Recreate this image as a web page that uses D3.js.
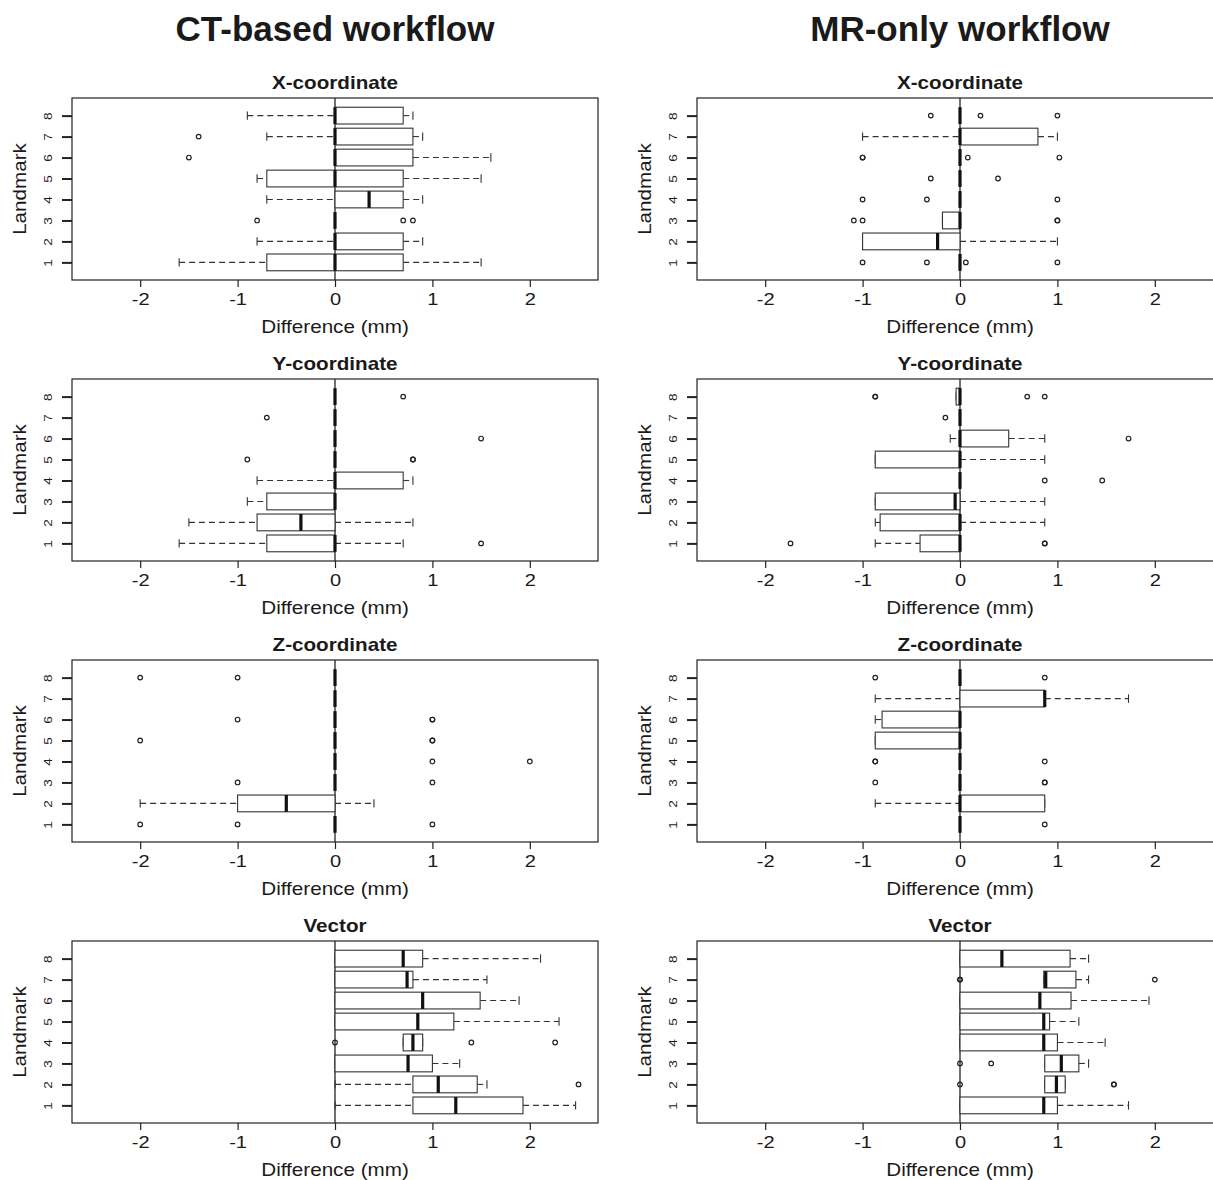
<!DOCTYPE html>
<html lang="en">
  <head>
    <meta charset="UTF-8" />
    <title>Landmark differences</title>
    <script src="https://cdn.jsdelivr.net/npm/d3@7"></script>
    <style>
      body { margin: 0; background: #fff; }
      svg { display: block; font-family: "Liberation Sans", Arial, sans-serif; }
    </style>
  </head>
  <body>
    <div id="wrapper"></div>
    <script>
      // landmarks 1..8, each row: [lower whisker, Q1, median, Q3, upper whisker]
      const landmarks = [1, 2, 3, 4, 5, 6, 7, 8]
      const xTicks = [-2, -1, 0, 1, 2]
      const columnTitles = ['CT-based workflow', 'MR-only workflow']
      const rowTitles = ['X-coordinate', 'Y-coordinate', 'Z-coordinate', 'Vector']

      const ctX = [
        [-1.6, -0.7, 0, 0.7, 1.5], [-0.8, 0, 0, 0.7, 0.9], [0, 0, 0, 0, 0], [-0.7, 0, 0.35, 0.7, 0.9],
        [-0.8, -0.7, 0, 0.7, 1.5], [0, 0, 0, 0.8, 1.6], [-0.7, 0, 0, 0.8, 0.9], [-0.9, 0, 0, 0.7, 0.8]
      ]
      const ctXOut = [[], [], [-0.8, 0.7, 0.8], [], [], [-1.5], [-1.4], []]

      const mrX = [
        [0, 0, 0, 0, 0], [-1.0, -1.0, -0.23, 0, 1.0], [-0.18, -0.18, 0, 0, 0], [0, 0, 0, 0, 0],
        [0, 0, 0, 0, 0], [0, 0, 0, 0, 0], [-1.0, 0, 0, 0.8, 1.0], [0, 0, 0, 0, 0]
      ]
      const mrXOut = [
        [-1.0, -0.34, 0.06, 1.0], [], [-1.09, -1.0, 1.0, 1.0], [-1.0, -0.34, 1.0],
        [-0.3, 0.39], [-1.0, -1.0, 0.08, 1.02], [], [-0.3, 0.21, 1.0]
      ]

      const ctY = [
        [-1.6, -0.7, 0, 0, 0.7], [-1.5, -0.8, -0.35, 0, 0.8], [-0.9, -0.7, 0, 0, 0], [-0.8, 0, 0, 0.7, 0.8],
        [0, 0, 0, 0, 0], [0, 0, 0, 0, 0], [0, 0, 0, 0, 0], [0, 0, 0, 0, 0]
      ]
      const ctYOut = [[1.5], [], [], [], [-0.9, 0.8, 0.8], [1.5], [-0.7], [0.7]]

      const mrY = [
        [-0.87, -0.41, 0, 0, 0], [-0.87, -0.82, 0, 0, 0.87], [-0.87, -0.87, -0.05, 0, 0.87], [0, 0, 0, 0, 0],
        [-0.87, -0.87, 0, 0, 0.87], [-0.1, 0, 0, 0.5, 0.87], [0, 0, 0, 0, 0], [-0.04, -0.04, 0, 0, 0]
      ]
      const mrYOut = [[-1.74, 0.87, 0.87], [], [], [0.87, 1.46], [], [1.73], [-0.15], [-0.87, -0.87, 0.69, 0.87]]

      const ctZ = [
        [0, 0, 0, 0, 0], [-2, -1, -0.5, 0, 0.4], [0, 0, 0, 0, 0], [0, 0, 0, 0, 0],
        [0, 0, 0, 0, 0], [0, 0, 0, 0, 0], [0, 0, 0, 0, 0], [0, 0, 0, 0, 0]
      ]
      const ctZOut = [[-2, -1, 1], [], [-1, 1], [1, 2], [-2, 1, 1], [-1, 1, 1], [], [-2, -1]]

      const mrZ = [
        [0, 0, 0, 0, 0], [-0.87, 0, 0, 0.87, 0.87], [0, 0, 0, 0, 0], [0, 0, 0, 0, 0],
        [-0.87, -0.87, 0, 0, 0], [-0.87, -0.8, 0, 0, 0], [-0.87, 0, 0.87, 0.87, 1.73], [0, 0, 0, 0, 0]
      ]
      const mrZOut = [[0.87], [], [-0.87, 0.87, 0.87], [-0.87, -0.87, 0.87], [], [], [], [-0.87, 0.87]]

      const ctVec = [
        [0, 0.8, 1.24, 1.93, 2.47], [0, 0.8, 1.06, 1.46, 1.56], [0, 0, 0.75, 1.0, 1.28], [0.7, 0.7, 0.8, 0.9, 0.9],
        [0, 0, 0.85, 1.22, 2.3], [0, 0, 0.9, 1.49, 1.89], [0, 0, 0.74, 0.8, 1.56], [0, 0, 0.7, 0.9, 2.11]
      ]
      const ctVecOut = [[], [2.5], [], [0, 1.4, 2.26], [], [], [], []]

      const mrVec = [
        [0, 0, 0.86, 1.0, 1.73], [0.87, 0.87, 0.99, 1.08, 1.08], [0.87, 0.87, 1.04, 1.22, 1.32], [0, 0, 0.86, 1.0, 1.49],
        [0, 0, 0.86, 0.92, 1.22], [0, 0, 0.82, 1.14, 1.94], [0.86, 0.86, 0.88, 1.19, 1.32], [0, 0, 0.43, 1.13, 1.32]
      ]
      const mrVecOut = [[], [0, 1.58, 1.58], [0, 0.32], [], [], [], [0, 0, 2.0], []]

      const panels = [
        { row: 0, col: 0, stats: ctX, out: ctXOut }, { row: 0, col: 1, stats: mrX, out: mrXOut },
        { row: 1, col: 0, stats: ctY, out: ctYOut }, { row: 1, col: 1, stats: mrY, out: mrYOut },
        { row: 2, col: 0, stats: ctZ, out: ctZOut }, { row: 2, col: 1, stats: mrZ, out: mrZOut },
        { row: 3, col: 0, stats: ctVec, out: ctVecOut }, { row: 3, col: 1, stats: mrVec, out: mrVecOut }
      ]

      const dms = {
        width: 1213,
        height: 1180,
        colLeft: [72, 697],
        rowTop: [98, 379, 660, 941],
        w: 526,
        h: 182
      }
      // the panel lettering is wider than plain Arial at the same height
      const stretch = 1.18

      const svg = d3.select('#wrapper').append('svg')
        .attr('width', dms.width)
        .attr('height', dms.height)

      const x = d3.scaleLinear().domain([-2.7, 2.7]).range([0, dms.w])
      const y = d3.scaleLinear().domain([0.16, 8.84]).range([dms.h, 0])
      const step = y(1) - y(2)
      const boxH = step * 0.8
      const staple = boxH * 0.25

      columnTitles.forEach((t, i) => {
        svg.append('text')
          .attr('x', dms.colLeft[i] + dms.w / 2)
          .attr('y', 41)
          .attr('text-anchor', 'middle')
          .attr('font-size', 35)
          .attr('font-weight', 'bold')
          .attr('fill', '#1a1a1a')
          .text(t)
      })

      panels.forEach(p => drawPanel(p))

      function drawPanel(p) {
        const g = svg.append('g')
          .attr('transform', `translate(${dms.colLeft[p.col]},${dms.rowTop[p.row]})`)

        g.append('text')
          .attr('transform', `translate(${dms.w / 2},-9) scale(${stretch},1)`)
          .attr('text-anchor', 'middle')
          .attr('font-size', 17.5)
          .attr('font-weight', 'bold')
          .attr('fill', '#1a1a1a')
          .text(rowTitles[p.row])

        // zero reference line
        g.append('line')
          .attr('x1', x(0)).attr('x2', x(0))
          .attr('y1', 0).attr('y2', dms.h)
          .attr('stroke', '#111')
          .attr('stroke-width', 1.2)

        landmarks.forEach((lm, i) => {
          const [lo, q1, med, q3, hi] = p.stats[i]
          const cy = y(lm)
          const b = g.append('g')

          b.selectAll('line.whisker')
            .data([[lo, q1], [q3, hi]])
            .join('line')
            .attr('class', 'whisker')
            .attr('x1', d => x(d[0])).attr('x2', d => x(d[1]))
            .attr('y1', cy).attr('y2', cy)
            .attr('stroke', '#333')
            .attr('stroke-width', 1.1)
            .attr('stroke-dasharray', '6,4')

          b.selectAll('line.staple')
            .data([lo, hi])
            .join('line')
            .attr('class', 'staple')
            .attr('x1', d => x(d)).attr('x2', d => x(d))
            .attr('y1', cy - staple).attr('y2', cy + staple)
            .attr('stroke', '#333')
            .attr('stroke-width', 1.1)

          b.append('rect')
            .attr('x', x(q1))
            .attr('y', cy - boxH / 2)
            .attr('width', x(q3) - x(q1))
            .attr('height', boxH)
            .attr('fill', '#fff')
            .attr('stroke', '#333')
            .attr('stroke-width', 1.1)

          b.append('line')
            .attr('x1', x(med)).attr('x2', x(med))
            .attr('y1', cy - boxH / 2).attr('y2', cy + boxH / 2)
            .attr('stroke', '#111')
            .attr('stroke-width', 3.2)

          b.selectAll('circle')
            .data(p.out[i])
            .join('circle')
            .attr('cx', d => x(d))
            .attr('cy', cy)
            .attr('r', 2.3)
            .attr('fill', 'none')
            .attr('stroke', '#222')
            .attr('stroke-width', 1.2)
        })

        g.append('rect')
          .attr('width', dms.w)
          .attr('height', dms.h)
          .attr('fill', 'none')
          .attr('stroke', '#222')
          .attr('stroke-width', 1.2)

        const xAxis = g.append('g')
          .attr('transform', `translate(0,${dms.h})`)
          .call(d3.axisBottom(x).tickValues(xTicks).tickSize(7).tickPadding(6).tickFormat(d => String(d)))
        xAxis.select('.domain').remove()
        xAxis.attr('font-size', 17).attr('font-family', null)
        xAxis.selectAll('line').attr('stroke', '#222').attr('stroke-width', 1.2)
        xAxis.selectAll('text')
          .attr('transform', `scale(${stretch},1)`)
          .attr('fill', '#1a1a1a')

        const yAxis = g.append('g')
          .call(d3.axisLeft(y).tickValues(landmarks).tickSize(10).tickFormat(d3.format('d')))
        yAxis.select('.domain').remove()
        yAxis.attr('font-size', 11.5).attr('font-family', null)
        yAxis.selectAll('line').attr('stroke', '#222').attr('stroke-width', 2)
        yAxis.selectAll('text')
          .attr('x', null)
          .attr('dy', '0.35em')
          .attr('text-anchor', 'middle')
          .attr('transform', `translate(-24,0) rotate(-90) scale(${stretch},1)`)
          .attr('fill', '#1a1a1a')

        g.append('text')
          .attr('transform', `translate(${dms.w / 2},${dms.h + 53}) scale(${stretch},1)`)
          .attr('text-anchor', 'middle')
          .attr('font-size', 17.5)
          .attr('fill', '#1a1a1a')
          .text('Difference (mm)')

        g.append('text')
          .attr('transform', `translate(-46,${dms.h / 2}) rotate(-90) scale(${stretch},1)`)
          .attr('text-anchor', 'middle')
          .attr('font-size', 17.5)
          .attr('fill', '#1a1a1a')
          .text('Landmark')
      }
    </script>
  </body>
</html>
